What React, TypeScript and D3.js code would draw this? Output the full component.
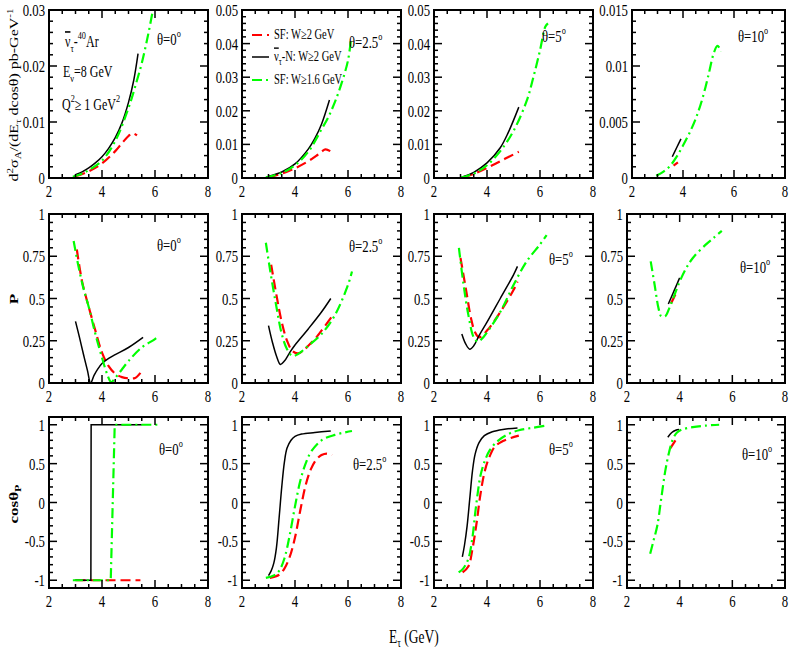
import React from 'react'
import * as d3 from 'd3'

type Pt = [number, number]

// ---- data: [E_tau (GeV), value] ----
// row 1: d2sigma/(dE dcos) for theta = 0, 2.5, 5, 10 deg
const dsig0Red: Pt[] = [[3.0, 0.0003], [3.5, 0.0012], [4.0, 0.0026], [4.5, 0.0048], [4.75, 0.0062], [5.0, 0.0075], [5.15, 0.0080], [5.32, 0.0076]]
const dsig0Black: Pt[] = [[3.0, 0.0006], [3.25, 0.0011], [3.5, 0.0018], [3.75, 0.0027], [4.0, 0.0038], [4.25, 0.0053], [4.5, 0.0072], [4.75, 0.0098], [5.0, 0.0135], [5.2, 0.0175], [5.36, 0.0222]]
const dsig0Green: Pt[] = [[2.9, 0.0002], [3.25, 0.0008], [3.5, 0.0014], [4.0, 0.0031], [4.5, 0.0066], [5.0, 0.0125], [5.25, 0.0163], [5.5, 0.0205], [5.75, 0.0258], [5.92, 0.0300]]

const dsig25Red: Pt[] = [[3.0, 0.0003], [3.5, 0.0013], [4.0, 0.0029], [4.5, 0.0050], [4.8, 0.0066], [5.0, 0.0078], [5.15, 0.0085], [5.33, 0.0080]]
const dsig25Black: Pt[] = [[3.0, 0.0005], [3.5, 0.0018], [4.0, 0.0042], [4.5, 0.0086], [4.75, 0.0118], [5.0, 0.0160], [5.3, 0.0232]]
const dsig25Green: Pt[] = [[2.9, 0.0002], [3.5, 0.0015], [4.0, 0.0038], [4.5, 0.0078], [5.0, 0.0145], [5.25, 0.0180], [5.5, 0.0225], [5.75, 0.0280], [6.0, 0.0350], [6.12, 0.0418]]

const dsig5Red: Pt[] = [[3.1, 0.0002], [3.5, 0.0012], [4.0, 0.0030], [4.5, 0.0050], [5.0, 0.0070], [5.2, 0.0078]]
const dsig5Black: Pt[] = [[3.1, 0.0004], [3.5, 0.0017], [4.0, 0.0045], [4.5, 0.0090], [4.8, 0.0135], [5.2, 0.0211]]
const dsig5Green: Pt[] = [[3.0, 0.0001], [3.5, 0.0013], [4.0, 0.0038], [4.5, 0.0080], [5.0, 0.0140], [5.5, 0.0230], [5.75, 0.0300], [6.0, 0.0380], [6.2, 0.0450], [6.3, 0.0460]]

const dsig10Red: Pt[] = [[3.63, 0.0011], [3.8, 0.0014]]
const dsig10Black: Pt[] = [[3.58, 0.0019], [3.75, 0.0027], [3.92, 0.0035]]
const dsig10Green: Pt[] = [[2.95, 0.0002], [3.25, 0.0006], [3.5, 0.0011], [3.75, 0.0019], [4.0, 0.0029], [4.25, 0.0040], [4.5, 0.0053], [4.75, 0.0070], [5.0, 0.0092], [5.2, 0.0111], [5.35, 0.0118], [5.5, 0.0113]]

// row 2: polarisation P
const pol0Red: Pt[] = [[3.05, 0.79], [3.25, 0.6], [3.5, 0.45], [3.75, 0.31], [4.0, 0.18], [4.25, 0.10], [4.5, 0.055], [4.75, 0.035], [5.0, 0.028], [5.25, 0.03], [5.45, 0.06]]
const pol0Black: Pt[] = [[3.0, 0.365], [3.15, 0.27], [3.3, 0.17], [3.45, 0.075], [3.57, 0.0], [3.7, 0.045], [3.85, 0.085], [4.0, 0.115], [4.25, 0.145], [4.5, 0.168], [5.0, 0.21], [5.55, 0.27]]
const pol0Green: Pt[] = [[2.93, 0.84], [3.1, 0.7], [3.3, 0.56], [3.5, 0.45], [3.75, 0.29], [4.0, 0.15], [4.2, 0.05], [4.35, 0.005], [4.5, 0.03], [4.75, 0.08], [5.0, 0.13], [5.5, 0.21], [6.0, 0.26], [6.15, 0.28]]

const pol25Red: Pt[] = [[3.1, 0.70], [3.3, 0.52], [3.5, 0.36], [3.7, 0.25], [3.9, 0.19], [4.1, 0.175], [4.3, 0.19], [4.5, 0.22], [4.75, 0.26], [5.0, 0.31], [5.4, 0.395]]
const pol25Black: Pt[] = [[3.0, 0.34], [3.15, 0.24], [3.3, 0.16], [3.45, 0.11], [3.6, 0.13], [3.8, 0.18], [4.0, 0.225], [4.5, 0.32], [5.0, 0.42], [5.35, 0.50]]
const pol25Green: Pt[] = [[2.9, 0.83], [3.1, 0.63], [3.3, 0.45], [3.5, 0.29], [3.7, 0.2], [3.9, 0.16], [4.1, 0.17], [4.5, 0.22], [5.0, 0.29], [5.5, 0.40], [6.0, 0.58], [6.15, 0.66]]

const pol5Red: Pt[] = [[3.0, 0.74], [3.2, 0.56], [3.4, 0.38], [3.55, 0.3], [3.7, 0.27], [4.0, 0.31], [4.5, 0.42], [5.0, 0.55], [5.15, 0.6]]
const pol5Black: Pt[] = [[3.05, 0.29], [3.2, 0.23], [3.35, 0.2], [3.5, 0.22], [3.7, 0.28], [4.0, 0.36], [4.5, 0.5], [5.0, 0.64], [5.15, 0.69]]
const pol5Green: Pt[] = [[2.94, 0.8], [3.1, 0.6], [3.3, 0.4], [3.5, 0.27], [3.65, 0.245], [3.8, 0.26], [4.0, 0.3], [4.5, 0.42], [5.0, 0.58], [5.5, 0.72], [6.0, 0.82], [6.25, 0.875]]

const pol10Red: Pt[] = [[3.67, 0.47], [3.86, 0.53]]
const pol10Black: Pt[] = [[3.57, 0.467], [4.0, 0.622]]
const pol10Green: Pt[] = [[2.9, 0.72], [3.05, 0.58], [3.2, 0.44], [3.3, 0.395], [3.45, 0.395], [3.6, 0.44], [3.8, 0.52], [4.0, 0.6], [4.25, 0.68], [4.5, 0.74], [5.0, 0.82], [5.3, 0.86], [5.6, 0.9]]

// row 3: cos(theta_P)
const cos0Red: Pt[] = [[3.0, -1], [5.45, -1]]
const cos0Black: Pt[] = [[2.97, -1], [3.58, -1], [3.59, 1], [5.5, 1]]
const cos0Green: Pt[] = [[2.9, -1], [4.33, -1], [4.48, 1], [6.15, 1]]

const cos25Red: Pt[] = [[3.05, -0.97], [3.4, -0.93], [3.6, -0.85], [3.8, -0.7], [4.0, -0.45], [4.2, -0.1], [4.4, 0.22], [4.6, 0.43], [4.8, 0.55], [5.0, 0.61], [5.2, 0.63], [5.4, 0.61]]
const cos25Black: Pt[] = [[3.0, -0.94], [3.1, -0.88], [3.2, -0.78], [3.3, -0.58], [3.4, -0.2], [3.5, 0.2], [3.6, 0.52], [3.7, 0.7], [3.85, 0.8], [4.0, 0.85], [4.25, 0.88], [4.75, 0.9], [5.35, 0.92]]
const cos25Green: Pt[] = [[2.9, -0.97], [3.2, -0.94], [3.4, -0.88], [3.6, -0.72], [3.8, -0.42], [4.0, -0.05], [4.2, 0.28], [4.4, 0.5], [4.6, 0.65], [5.0, 0.8], [5.5, 0.87], [6.15, 0.92]]

const cos5Red: Pt[] = [[3.08, -0.9], [3.3, -0.82], [3.45, -0.6], [3.6, -0.28], [3.75, 0.1], [3.9, 0.38], [4.05, 0.55], [4.3, 0.72], [4.6, 0.79], [4.9, 0.83], [5.2, 0.86]]
const cos5Black: Pt[] = [[3.07, -0.7], [3.15, -0.55], [3.25, -0.3], [3.35, 0.05], [3.45, 0.4], [3.55, 0.62], [3.7, 0.77], [3.9, 0.86], [4.2, 0.91], [4.6, 0.94], [5.15, 0.96]]
const cos5Green: Pt[] = [[2.93, -0.9], [3.1, -0.85], [3.3, -0.72], [3.45, -0.45], [3.55, -0.15], [3.65, 0.12], [3.75, 0.34], [3.9, 0.52], [4.1, 0.67], [4.4, 0.79], [4.8, 0.88], [5.2, 0.93], [5.7, 0.96], [6.25, 0.99]]

const cos10Red: Pt[] = [[3.65, 0.7], [3.84, 0.8]]
const cos10Black: Pt[] = [[3.55, 0.84], [3.7, 0.9], [3.85, 0.93], [3.98, 0.94]]
const cos10Green: Pt[] = [[2.88, -0.66], [3.0, -0.5], [3.15, -0.3], [3.3, 0.05], [3.45, 0.4], [3.6, 0.65], [3.75, 0.82], [3.9, 0.9], [4.1, 0.94], [4.5, 0.97], [5.0, 0.99], [5.5, 1.0]]

// ticks
const xTicks = [2, 4, 6, 8]
const dsigTicks = [0, 0.01, 0.02, 0.03, 0.04, 0.05]
const dsig10Ticks = [0, 0.005, 0.01, 0.015]
const polTicks = [0, 0.25, 0.5, 0.75, 1]
const cosTicks = [-1, -0.5, 0, 0.5, 1]
const dsigMax = [0.03, 0.05, 0.05, 0.015]
const angles = ['0', '2.5', '5', '10']

const SX = 0.75
const FONT = "'Liberation Serif', 'Times New Roman', serif"
const RED = '#ff0000'
const GREEN = '#00ff00'

const cols = [{ l: 49, r: 208 }, { l: 242, r: 401 }, { l: 434, r: 593 }, { l: 627, r: 785 }]
const rows = [{ t: 10, b: 178 }, { t: 214, b: 383 }, { t: 417, b: 588 }]

const styles = {
  red: { stroke: RED, width: 2.2, dash: '10,5' },
  black: { stroke: '#000', width: 1.5, dash: null },
  green: { stroke: GREEN, width: 2.2, dash: '10,4,2,4' },
}

const Txt = ({ x, y, size = 17, anchor = 'start', rotate = false, weight = 'normal', children }: any) => (
  <text
    transform={`translate(${x},${y}) scale(${SX},1)${rotate ? ' rotate(-90)' : ''}`}
    fontFamily={FONT} fontSize={size} textAnchor={anchor} fontWeight={weight} fill="#000">
    {children}
  </text>
)

const fmt = (v: number) => String(+v.toFixed(4))

const stepRange = (lo: number, hi: number, step: number) =>
  d3.range(Math.ceil(lo / step - 1e-9), Math.floor(hi / step + 1e-9) + 1).map(i => i * step)
    .filter(v => v > lo + 1e-9 && v < hi - 1e-9)

const Panel = ({ id, col, row, yDomain, yTicks, yMinor, series, linear, theta }: any) => {
  const { l, r } = row === 0 && col === 3 ? { l: 632, r: 785 } : cols[col]
  const { t, b } = rows[row]
  const x = d3.scaleLinear().domain([2, 8]).range([l, r])
  const y = d3.scaleLinear().domain(yDomain).range([b, t])
  const line = d3.line<Pt>().x(d => x(d[0])).y(d => y(d[1]))
    .curve(linear ? d3.curveLinear : d3.curveCatmullRom.alpha(0.5))
  const xMin = stepRange(2, 8, 0.5)
  const yMin = stepRange(yDomain[0], yDomain[1], yMinor)
  const yMaj = yTicks.filter((v: number) => v >= yDomain[0] - 1e-9 && v <= yDomain[1] + 1e-9)
  const tk = (major: boolean) => (major ? 8 : 4)
  return (
    <g>
      <clipPath id={`clip-${id}`}><rect x={l} y={t} width={r - l} height={b - t} /></clipPath>
      <g clipPath={`url(#clip-${id})`}>
        {series.map((s: any, i: number) => (
          <path key={i} d={line(s.data) || ''} fill="none" stroke={styles[s.kind].stroke}
            strokeWidth={styles[s.kind].width} strokeDasharray={styles[s.kind].dash || undefined} />
        ))}
      </g>
      <g stroke="#000" strokeWidth={1.5}>
        {xMin.map(v => {
          const major = xTicks.includes(v)
          return (
            <g key={`x${v}`}>
              <line x1={x(v)} x2={x(v)} y1={b} y2={b - tk(major)} />
              <line x1={x(v)} x2={x(v)} y1={t} y2={t + tk(major)} />
            </g>
          )
        })}
        {yMin.map(v => {
          const major = yMaj.some((m: number) => Math.abs(m - v) < 1e-9)
          return (
            <g key={`y${v}`}>
              <line x1={l} x2={l + tk(major)} y1={y(v)} y2={y(v)} />
              <line x1={r} x2={r - tk(major)} y1={y(v)} y2={y(v)} />
            </g>
          )
        })}
      </g>
      <rect x={l} y={t} width={r - l} height={b - t} fill="none" stroke="#000" strokeWidth={2} />
      {xTicks.map(v => (
        <Txt key={`xl${v}`} x={x(v)} y={b + 19} anchor="middle">{fmt(v)}</Txt>
      ))}
      {yMaj.map((v: number) => (
        <Txt key={`yl${v}`} x={l - 4} y={y(v) + 6} anchor="end">{fmt(v)}</Txt>
      ))}
      <Txt x={theta.x} y={theta.y} size={17}>
        {`θ=${angles[col]}`}<tspan dy={-8} fontSize={11}>o</tspan>
      </Txt>
    </g>
  )
}

const thetaPos = [
  [{ x: 157, y: 45 }, { x: 349, y: 48 }, { x: 542, y: 42 }, { x: 738, y: 42 }],
  [{ x: 157, y: 251 }, { x: 349, y: 252 }, { x: 549, y: 265 }, { x: 740, y: 273 }],
  [{ x: 159, y: 455 }, { x: 353, y: 470 }, { x: 549, y: 455 }, { x: 742, y: 460 }],
]

const ser = (red: Pt[], black: Pt[], green: Pt[]) => [
  { kind: 'red', data: red }, { kind: 'black', data: black }, { kind: 'green', data: green },
]

const panels = [
  { col: 0, row: 0, series: ser(dsig0Red, dsig0Black, dsig0Green) },
  { col: 1, row: 0, series: ser(dsig25Red, dsig25Black, dsig25Green) },
  { col: 2, row: 0, series: ser(dsig5Red, dsig5Black, dsig5Green) },
  { col: 3, row: 0, series: ser(dsig10Red, dsig10Black, dsig10Green) },
  { col: 0, row: 1, series: ser(pol0Red, pol0Black, pol0Green) },
  { col: 1, row: 1, series: ser(pol25Red, pol25Black, pol25Green) },
  { col: 2, row: 1, series: ser(pol5Red, pol5Black, pol5Green) },
  { col: 3, row: 1, series: ser(pol10Red, pol10Black, pol10Green) },
  { col: 0, row: 2, series: ser(cos0Red, cos0Black, cos0Green), linear: true },
  { col: 1, row: 2, series: ser(cos25Red, cos25Black, cos25Green) },
  { col: 2, row: 2, series: ser(cos5Red, cos5Black, cos5Green) },
  { col: 3, row: 2, series: ser(cos10Red, cos10Black, cos10Green) },
].map(p => {
  const yCfg = p.row === 0
    ? { yDomain: [0, dsigMax[p.col]], yTicks: p.col === 3 ? dsig10Ticks : dsigTicks, yMinor: p.col === 3 ? 0.001 : 0.002 }
    : p.row === 1
      ? { yDomain: [0, 1], yTicks: polTicks, yMinor: 0.05 }
      : { yDomain: [-1.1, 1.1], yTicks: cosTicks, yMinor: 0.1 }
  return { ...p, ...yCfg, id: `${p.row}-${p.col}`, theta: thetaPos[p.row][p.col] }
})

const legend = [
  { kind: 'red', y: 35, label: <>SF: W≥2 GeV</> },
  { kind: 'black', y: 57, label: <><tspan textDecoration="overline">ν</tspan><tspan dy={4} fontSize={10}>τ</tspan><tspan dy={-4}>-N: W≥2 GeV</tspan></> },
  { kind: 'green', y: 80, label: <>SF: W≥1.6 GeV</> },
]

export default function App() {
  return (
    <svg width={789} height={654} style={{ position: 'absolute', left: 0, top: 0, background: '#fff' }}>
      {panels.map(p => <Panel key={p.id} {...p} />)}

      {legend.map(d => (
        <g key={d.kind}>
          <line x1={252} x2={269} y1={d.y} y2={d.y} stroke={styles[d.kind].stroke}
            strokeWidth={styles[d.kind].width} strokeDasharray={styles[d.kind].dash || undefined} />
          <Txt x={274} y={d.y + 4} size={14}>{d.label}</Txt>
        </g>
      ))}

      <Txt x={65} y={47} size={16}>
        <tspan textDecoration="overline">ν</tspan><tspan dy={5} fontSize={11}>τ</tspan>
        <tspan dy={-5}>-</tspan><tspan dy={-8} fontSize={11}>40</tspan><tspan dy={8}>Ar</tspan>
      </Txt>
      <Txt x={63} y={77} size={16}>
        E<tspan dy={5} fontSize={11}>ν</tspan><tspan dy={-5}>=8 GeV</tspan>
      </Txt>
      <Txt x={62} y={110} size={16}>
        Q<tspan dy={-8} fontSize={11}>2</tspan><tspan dy={8}>≥ 1 GeV</tspan><tspan dy={-8} fontSize={11}>2</tspan>
      </Txt>

      <Txt x={18} y={95} size={16} anchor="middle" rotate>
        d<tspan dy={-7} fontSize={11}>2</tspan><tspan dy={7}>σ</tspan><tspan dy={4} fontSize={11}>A</tspan>
        <tspan dy={-4}>/(dE</tspan><tspan dy={4} fontSize={11}>τ</tspan><tspan dy={-4}> dcosθ) pb-GeV</tspan>
        <tspan dy={-7} fontSize={11}>-1</tspan>
      </Txt>
      <Txt x={18} y={299} size={17} anchor="middle" rotate weight="bold">P</Txt>
      <Txt x={18} y={504} size={17} anchor="middle" rotate weight="bold">
        cosθ<tspan dy={4} fontSize={12}>P</tspan>
      </Txt>

      <Txt x={389} y={643} size={18}>
        E<tspan dy={4} fontSize={12}>τ</tspan><tspan dy={-4}> (GeV)</tspan>
      </Txt>
    </svg>
  )
}
